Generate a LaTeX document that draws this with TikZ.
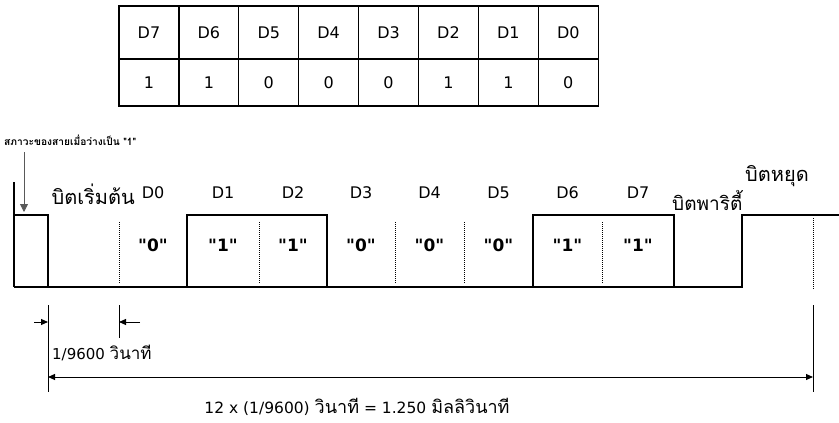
\documentclass[tikz,border=0pt]{standalone}
\usepackage{fontspec}
\setmainfont{DejaVu Sans}
\newfontfamily\thai[Script=Thai]{Loma}
\usetikzlibrary{arrows.meta}
\tikzset{
  cell/.style={draw, line width=1.3pt, inner sep=0pt, minimum width=59.9pt, font=\fontsize{16}{16}\selectfont},
  wave/.style={line width=2.6pt, line join=miter},
  bitdiv/.style={line width=1pt, densely dotted},
  dim/.style={line width=1pt},
  dimtip/.style={-{Triangle[length=7pt,width=6pt]}, line width=1pt},
  bitlbl/.style={font=\fontsize{16}{16}\selectfont},
  val/.style={font=\bfseries\fontsize{17}{17}\selectfont},
  thlbl/.style={font=\thai\fontsize{20}{20}\selectfont, inner sep=1pt}
}

\begin{document}
\begin{tikzpicture}[x=1pt, y=-1pt]
\useasboundingbox (0,0) rectangle (839,423);

%table
\foreach \b/\v [count=\i] in {D7/1,D6/1,D5/0,D4/0,D3/0,D2/1,D1/1,D0/0}{
  \node[cell, minimum height=53pt] (h\i) at (119+59.9*\i-29.95, 32.5) {\b};
  \node[cell, minimum height=47pt] (v\i) at (119+59.9*\i-29.95, 82.5) {\v};
}

%bit boundaries
\foreach \x [count=\i from 0] in {48,119,187,259,327,395,464,533,602,674,742,813}
  \coordinate (b\i) at (\x,287);
\coordinate (idle) at (14,287);

%waveform
\draw[wave] (idle) -- (b10);
\draw[wave] (14,182) -- (idle);
\draw[wave] (14,215) -| (b0) -- (b2) |- (327,215) -- (b4) -- (b7)
            |- (674,215) -- (b9) -- (b10) |- (839,215);

%dotted bit dividers
\foreach \j in {1,3,5,6,8}
  \draw[bitdiv] ([yshift=65pt]b\j) -- ([yshift=3pt]b\j);

%bit names and values
\foreach \n/\v [count=\i] in {D0/0,D1/1,D2/1,D3/0,D4/0,D5/0,D6/1,D7/1}{
  \pgfmathtruncatemacro\k{\i+1}
  \path (b\i) -- coordinate (m\i) (b\k);
  \node[bitlbl] (d\i) at ([yshift=94pt]m\i) {\n};
  \node[val]    (q\i) at ([yshift=42pt]m\i) {\textquotedbl\v\textquotedbl};
}

%labels
\node[thlbl, anchor=east] (start) at (136,194) {บิตเริ่มต้น};
\node[thlbl, font=\thai\fontsize{19}{19}\selectfont, anchor=west] (parity) at (671,200) {บิตพาริตี้};
\node[thlbl, anchor=west] (stop) at (744,176) {บิตหยุด};
\node[anchor=west, inner sep=0pt, font=\thai\bfseries\fontsize{10.2}{10.2}\selectfont] (idletxt) at (4,140) {สภาวะของสายเมื่อว่างเป็น "1"};
\coordinate (arrtop) at (24,152);
\draw[-{Triangle[length=8pt,width=8pt]}, gray!70!black, line width=0.8pt] (arrtop) -- (24,212);

%one bit time
\draw[dim] (48,305) -- (48,392);
\draw[dim] (119,305) -- (119,338);
\draw[dim] (813,305) -- (813,392);
\draw[bitdiv] (813,218) -- (813,290);
\coordinate (lt) at (34,322);
\coordinate (rt) at (140,322);
\draw[dimtip] (lt) -- (48,322);
\draw[dimtip] (rt) -- (119,322);
\node[anchor=west, inner sep=0pt, font=\fontsize{15}{15}\selectfont] (tbit) at (52,353) {1/9600 {\thai\fontsize{17}{17}\selectfont วินาที}};

%frame time
\draw[dim, {Triangle[length=7pt,width=6pt]}-{Triangle[length=7pt,width=6pt]}] (48,377) -- (813,377);
\node[inner sep=0pt, font=\fontsize{15.5}{15.5}\selectfont] (tframe) at (357,407) {12 x (1/9600) {\thai\fontsize{18}{18}\selectfont วินาที} = 1.250 {\thai\fontsize{18}{18}\selectfont มิลลิวินาที}};
\end{tikzpicture}
\end{document}
